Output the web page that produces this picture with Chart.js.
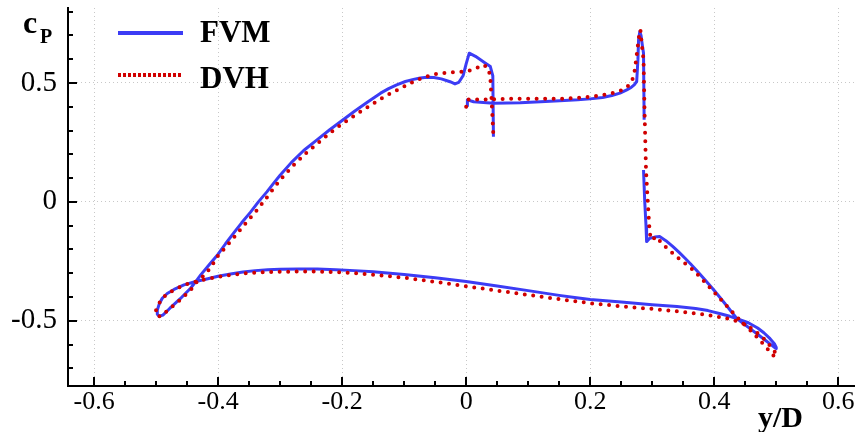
<!DOCTYPE html>
<html>
<head>
<meta charset="utf-8">
<script src="https://cdn.jsdelivr.net/npm/chart.js@4"></script>
<style>
  body { margin: 0; background: #fff; }
  #wrap { position: relative; width: 855px; height: 432px; font-family: "Liberation Serif", "Times New Roman", serif; }
  .lbl { position: absolute; font-weight: bold; color: #000; white-space: nowrap; line-height: 1; }
  .key { position: absolute; left: 118px; width: 65px; height: 4px; }
</style>
</head>
<body>
<div id="wrap">
  <canvas id="cpChart"></canvas>
  <span class="lbl" style="left:23px; top:6px; font-size:32px;">c</span>
  <span class="lbl" style="left:40px; top:26px; font-size:20px;">P</span>
  <div class="key" style="top:31px; background:#3c3cf5;"></div>
  <div class="key" style="top:73px; background:repeating-linear-gradient(to right, #d00000 0 3px, transparent 3px 5px);"></div>
  <span class="lbl" style="left:200px; top:16px; font-size:31px;">FVM</span>
  <span class="lbl" style="left:200px; top:62px; font-size:31px;">DVH</span>
  <span class="lbl" style="left:758px; top:402px; font-size:30px;">y/D</span>
</div>
<script>
// FVM (solid blue), null splits the two pieces
const fvmX = [
  0.002, 0.002, 0.012, 0.044, 0.087, 0.120, 0.151, 0.180, 0.200, 0.220, 0.235, 0.248, 0.259, 0.266, 0.271, 0.275, 0.277, 0.278, 0.280, 0.282, 0.284, 0.286, 0.287,
  null,
  0.286, 0.288, 0.290, 0.291, 0.296, 0.304, 0.312, 0.322, 0.333, 0.343, 0.353, 0.362, 0.371, 0.385, 0.398, 0.410, 0.423, 0.436,
  0.447, 0.460, 0.473, 0.483, 0.491, 0.497, 0.500,
  0.500, 0.497, 0.490, 0.480, 0.470, 0.455, 0.440, 0.425, 0.410, 0.390, 0.370, 0.340, 0.300, 0.250, 0.200, 0.175, 0.150, 0.100, 0.050, 0.000,
  -0.050, -0.100, -0.150, -0.180, -0.210, -0.240, -0.270, -0.300, -0.320, -0.340, -0.360, -0.380, -0.400, -0.420, -0.436, -0.455, -0.471, -0.482, -0.490, -0.495,
  -0.498, -0.498, -0.495, -0.489,
  -0.478, -0.461, -0.444, -0.436, -0.428, -0.414, -0.400, -0.388, -0.375, -0.362, -0.348, -0.335, -0.321, -0.310, -0.300, -0.282,
  -0.262, -0.240, -0.220, -0.200, -0.180, -0.160, -0.138, -0.125, -0.112, -0.098, -0.085, -0.074, -0.063, -0.052, -0.040, -0.026,
  -0.018, -0.012, -0.005, 0.000, 0.005, 0.015, 0.030, 0.039, 0.043, 0.044];
const fvmY = [
  0.400, 0.429, 0.421, 0.415, 0.417, 0.421, 0.425, 0.429, 0.433, 0.439, 0.447, 0.457, 0.471, 0.481, 0.492, 0.506, 0.600, 0.681, 0.716, 0.700, 0.660, 0.625, 0.345,
  null,
  0.134, 0.000, -0.100, -0.167, -0.153, -0.148, -0.146, -0.163, -0.187, -0.211, -0.237, -0.261, -0.286, -0.327, -0.366, -0.404, -0.446, -0.489,
  -0.511, -0.537, -0.563, -0.583, -0.599, -0.611, -0.617,
  -0.612, -0.596, -0.575, -0.550, -0.530, -0.508, -0.494, -0.481, -0.470, -0.457, -0.448, -0.440, -0.432, -0.421, -0.410, -0.402, -0.393, -0.373, -0.354, -0.335,
  -0.319, -0.305, -0.294, -0.289, -0.285, -0.282, -0.282, -0.283, -0.285, -0.289, -0.295, -0.303, -0.313, -0.325, -0.335, -0.349, -0.368, -0.385, -0.405, -0.430,
  -0.455, -0.472, -0.481, -0.476,
  -0.448, -0.407, -0.362, -0.335, -0.307, -0.263, -0.220, -0.176, -0.131, -0.088, -0.044, 0.000, 0.043, 0.080, 0.112, 0.165,
  0.216, 0.262, 0.303, 0.342, 0.381, 0.418, 0.457, 0.476, 0.492, 0.506, 0.515, 0.521, 0.524, 0.523, 0.517, 0.505,
  0.496, 0.502, 0.530, 0.580, 0.625, 0.612, 0.585, 0.569, 0.530, 0.274];

// DVH (red dots)
const dvhX = [
  0.000, 0.002, 0.023, 0.071, 0.110, 0.151, 0.185, 0.210, 0.230, 0.248, 0.258, 0.265, 0.269, 0.272, 0.276, 0.279, 0.281, 0.283, 0.286,
  0.287, 0.288, 0.289, 0.290, 0.292, 0.294, 0.296, 0.299, 0.307, 0.315, 0.327, 0.339, 0.352, 0.366, 0.383, 0.400, 0.420, 0.441,
  0.452, 0.463, 0.473, 0.482, 0.490, 0.498,
  0.500, 0.497, 0.490, 0.480, 0.468, 0.455, 0.440, 0.420, 0.400, 0.380, 0.345, 0.300, 0.250, 0.200, 0.150, 0.100, 0.050, 0.000,
  -0.050, -0.100, -0.150, -0.200, -0.240, -0.280, -0.320, -0.350, -0.380, -0.405, -0.425, -0.436, -0.455, -0.471, -0.482, -0.490,
  -0.497, -0.500, -0.501, -0.498, -0.493,
  -0.485, -0.477, -0.461, -0.444, -0.434, -0.420, -0.410, -0.401, -0.385, -0.370, -0.354, -0.337, -0.321, -0.310, -0.300, -0.280,
  -0.257, -0.235, -0.218, -0.200, -0.175, -0.149, -0.130, -0.118, -0.106, -0.095, -0.085, -0.074, -0.058, -0.045, -0.031, -0.015,
  0.001, 0.015, 0.028, 0.036, 0.039, 0.041, 0.044];
const dvhY = [
  0.400, 0.430, 0.430, 0.433, 0.433, 0.433, 0.438, 0.445, 0.454, 0.466, 0.480, 0.497, 0.520, 0.555, 0.639, 0.702, 0.723, 0.667, 0.597,
  0.470, 0.345, 0.240, 0.134, 0.040, -0.048, -0.131, -0.160, -0.146, -0.174, -0.202, -0.230, -0.257, -0.286, -0.332, -0.380, -0.437, -0.496,
  -0.524, -0.552, -0.580, -0.606, -0.630, -0.653,
  -0.640, -0.628, -0.605, -0.575, -0.548, -0.522, -0.503, -0.490, -0.480, -0.472, -0.461, -0.450, -0.439, -0.426, -0.409, -0.391, -0.373, -0.355,
  -0.336, -0.319, -0.306, -0.296, -0.293, -0.293, -0.295, -0.299, -0.307, -0.318, -0.328, -0.335, -0.350, -0.370, -0.387, -0.405,
  -0.435, -0.455, -0.468, -0.479, -0.482,
  -0.465, -0.447, -0.412, -0.370, -0.335, -0.303, -0.268, -0.230, -0.182, -0.135, -0.085, -0.034, 0.020, 0.058, 0.092, 0.150,
  0.208, 0.256, 0.293, 0.328, 0.372, 0.415, 0.445, 0.461, 0.477, 0.492, 0.505, 0.518, 0.532, 0.539, 0.543, 0.546,
  0.548, 0.560, 0.576, 0.562, 0.520, 0.429, 0.274];

// axis ranges and tick spacing
const xRange = [-0.642, 0.627];
const yRange = [-0.774, 0.815];
const xMajor = 0.2, xMinor = 0.05;
const yMajor = 0.5, yMinor = 0.1;

function toPoints(xs, ys) {
    return xs.map((x, i) => ({ x: x, y: ys[i] }));
}

function isMultiple(v, step) {
    return Math.abs(Math.round(v / step) * step - v) < 1e-6;
}

function fmt(v) {
    const r = Math.round(v * 10) / 10;
    return r === 0 ? '0' : String(r);
}

// tick marks that point into the plot, like the original
const innerTicks = {
    id: 'innerTicks',
    afterDraw(chart) {
        const ctx = chart.ctx;
        const xs = chart.scales.x, ys = chart.scales.y;
        const area = chart.chartArea;
        ctx.save();
        ctx.strokeStyle = '#000';
        ctx.lineWidth = 2;
        ctx.beginPath();
        for (let v = Math.ceil(xs.min / xMinor) * xMinor; v <= xs.max; v += xMinor) {
            const px = Math.round(xs.getPixelForValue(v));
            const len = isMultiple(v, xMajor) ? 9 : 5;
            ctx.moveTo(px, area.bottom);
            ctx.lineTo(px, area.bottom - len);
        }
        for (let v = Math.ceil(ys.min / yMinor) * yMinor; v <= ys.max; v += yMinor) {
            const py = Math.round(ys.getPixelForValue(v));
            const len = isMultiple(v, yMajor) ? 9 : 5;
            ctx.moveTo(area.left, py);
            ctx.lineTo(area.left + len, py);
        }
        ctx.stroke();
        ctx.restore();
    }
};

const serif = "'Liberation Serif', 'Times New Roman', serif";
Chart.defaults.font.family = serif;

new Chart(document.getElementById('cpChart'), {
    type: 'scatter',
    data: {
        datasets: [{
            label: 'FVM',
            data: toPoints(fvmX, fvmY),
            showLine: true,
            borderColor: '#3c3cf5',
            borderWidth: 3,
            borderJoinStyle: 'round',
            pointRadius: 0,
            spanGaps: false,
            order: 2
        }, {
            label: 'DVH',
            data: toPoints(dvhX, dvhY),
            showLine: true,
            borderColor: '#d00000',
            borderWidth: 4,
            borderDash: [0, 8.5],
            borderCapStyle: 'round',
            borderJoinStyle: 'round',
            pointRadius: 0,
            order: 1
        }]
    },
    options: {
        responsive: true,
        maintainAspectRatio: false,
        animation: false,
        layout: { padding: { top: 8, right: 0, left: 0, bottom: 0 } },
        plugins: {
            legend: { display: false },
            tooltip: { enabled: false }
        },
        scales: {
            x: {
                type: 'linear',
                min: xRange[0],
                max: xRange[1],
                afterFit: (s) => { s.height = 46; s.paddingLeft = 0; s.paddingRight = 0; },
                ticks: {
                    stepSize: xMajor,
                    includeBounds: false,
                    autoSkip: false,
                    maxRotation: 0,
                    padding: 1,
                    color: '#000',
                    font: { family: serif, size: 26 },
                    callback: (v) => fmt(v)
                },
                grid: { drawTicks: false, color: '#c8c8c8', lineWidth: 1 },
                border: { display: true, color: '#000', width: 2, dash: [1, 3] }
            },
            y: {
                type: 'linear',
                min: yRange[0],
                max: yRange[1],
                afterFit: (s) => { s.width = 68; s.paddingTop = 0; s.paddingBottom = 0; },
                ticks: {
                    stepSize: yMajor,
                    includeBounds: false,
                    padding: 11,
                    color: '#000',
                    font: { family: serif, size: 29 },
                    callback: (v) => fmt(v)
                },
                grid: { drawTicks: false, color: '#c8c8c8', lineWidth: 1 },
                border: { display: true, color: '#000', width: 2, dash: [1, 3] }
            }
        }
    },
    plugins: [innerTicks]
});
</script>
</body>
</html>
